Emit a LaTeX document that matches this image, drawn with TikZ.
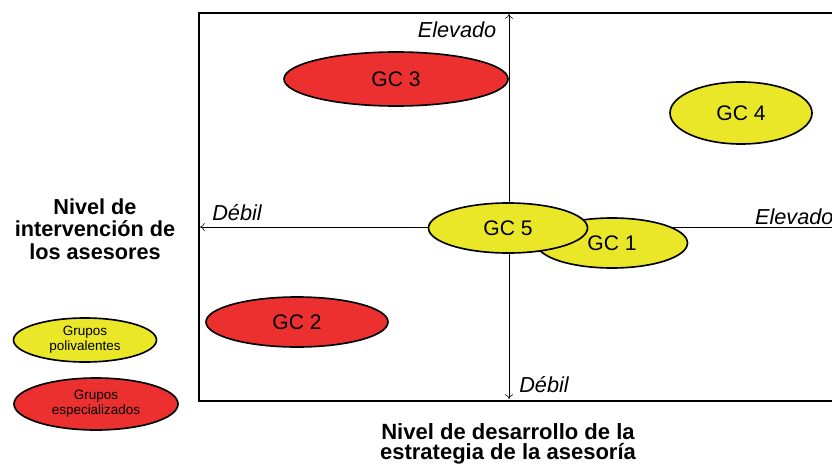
\documentclass[tikz,border=0pt]{standalone}
\usepackage{fontspec}
\setmainfont{Liberation Sans}
\usetikzlibrary{shapes.geometric,arrows.meta}
\definecolor{gcyellow}{RGB}{234,230,40}
\definecolor{gcred}{RGB}{236,48,48}
\tikzset{
  grupo/.style={ellipse,draw=black,line width=1.4pt,inner sep=0pt,font=\fontsize{18}{20}\selectfont},
  poli/.style={grupo,fill=gcyellow},
  espe/.style={grupo,fill=gcred},
  leyenda/.style={font=\fontsize{11.5}{13}\selectfont,align=center},
  eje/.style={-{To[length=4pt,width=7pt]},line width=0.5pt},
  rotulo/.style={font=\itshape\fontsize{18.5}{20}\selectfont},
  titulo/.style={font=\bfseries\fontsize{18.5}{19}\selectfont,align=center}
}
\begin{document}
\begin{tikzpicture}[x=0.3mm,y=-0.3mm]
  \useasboundingbox (0,0) rectangle (832,463);
  \draw[line width=1.4pt] (199,13) rectangle (845,401);
  \coordinate (o) at (509,227);
  \coordinate (arriba) at (509,14);
  \coordinate (abajo) at (509,399);
  \coordinate (izq) at (200,227);
  \coordinate (der) at (843,227);
  \draw[eje] (o) -- (arriba);
  \draw[eje] (o) -- (abajo);
  \draw[eje] (o) -- (izq);
  \draw[eje] (o) -- (der);
  \node[rotulo] (elevv) at (457,30) {Elevado};
  \node[rotulo] (debilv) at (544,385) {Débil};
  \node[rotulo] (debilh) at (237,213) {Débil};
  \node[rotulo,anchor=west] (elevh) at (751,217) {Elevado};
  \node[espe,minimum width=67.2mm,minimum height=16.2mm] (gc3) at (396,79) {GC 3};
  \node[poli,minimum width=42.6mm,minimum height=18.6mm] (gc4) at (741,113) {GC 4};
  \node[poli,minimum width=45.3mm,minimum height=15mm] (gc1) at (612,243) {GC 1};
  \node[poli,minimum width=47.7mm,minimum height=15mm] (gc5) at (508,228) {GC 5};
  \node[espe,minimum width=54.6mm,minimum height=15mm] (gc2) at (297,322) {GC 2};
  \node[poli,minimum width=42.9mm,minimum height=13.2mm,leyenda] (lpoli) at (85,340) {Grupos\\polivalentes};
  \node[espe,minimum width=49.2mm,minimum height=15.6mm,leyenda] (lespe) at (96,404) {Grupos\\especializados};
  \node[titulo] (tiy) at (95,229) {Nivel de\\intervención de\\los asesores};
  \node[titulo,font=\bfseries\fontsize{18.8}{17.5}\selectfont] (tix) at (508,444) {Nivel de desarrollo de la\\estrategia de la asesoría};
\end{tikzpicture}
\end{document}
